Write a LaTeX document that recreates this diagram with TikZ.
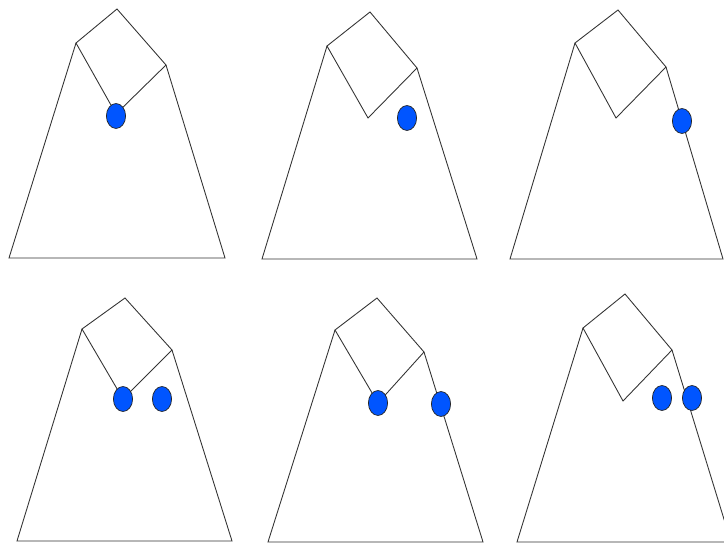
\documentclass[tikz,border=0pt]{standalone}
\usetikzlibrary{shapes.geometric}
\definecolor{dotblue}{RGB}{0,85,255}
\tikzset{
  rim/.style={draw=black!80,line width=0.75pt,line join=miter},
  ball/.style={ellipse,draw=black!85,fill=dotblue,line width=0.6pt,
    inner sep=0pt,outer sep=0pt,minimum width=16.4pt,minimum height=21.3pt}
}
\begin{document}
\begin{tikzpicture}[x=0.03cm,y=-0.03cm]
\useasboundingbox (0,0) rectangle (724,544);
\clip (0,0) rectangle (724,544);
% top row
\coordinate (l1) at (76,43);  \coordinate (t1) at (117,9);
\coordinate (r1) at (166,65); \coordinate (b1) at (116,114);
\coordinate (bl1) at (9,258); \coordinate (br1) at (225,258);
\coordinate (l2) at (327,46); \coordinate (t2) at (370,12);
\coordinate (r2) at (417,68); \coordinate (b2) at (368,118);
\coordinate (bl2) at (262,259); \coordinate (br2) at (477,259);
\coordinate (l3) at (575,43); \coordinate (t3) at (618,10);
\coordinate (r3) at (666,67); \coordinate (b3) at (616,118);
\coordinate (bl3) at (510,259); \coordinate (br3) at (723,259);
% bottom row
\coordinate (l4) at (82,329); \coordinate (t4) at (125,298);
\coordinate (r4) at (172,350); \coordinate (b4) at (123,399);
\coordinate (bl4) at (17,541); \coordinate (br4) at (232,541);
\coordinate (l5) at (335,330); \coordinate (t5) at (377,298);
\coordinate (r5) at (424,352); \coordinate (b5) at (378,403);
\coordinate (bl5) at (268,542); \coordinate (br5) at (483,542);
\coordinate (l6) at (583,328); \coordinate (t6) at (625,294);
\coordinate (r6) at (672,350); \coordinate (b6) at (623,401);
\coordinate (bl6) at (517,542); \coordinate (br6) at (731,542);
\foreach \i in {1,...,6}{
  \draw[rim] (r\i)--(br\i)--(bl\i)--(l\i);
  \draw[rim] (l\i)--(t\i)--(r\i)--(b\i)--cycle;
}
\node[ball] (d1) at (116,116) {};
\node[ball] (d2) at (407,118) {};
\node[ball] (d3) at (682,121) {};
\node[ball] (d4a) at (123,399) {};
\node[ball] (d4b) at (162,399) {};
\node[ball] (d5a) at (378,403) {};
\node[ball] (d5b) at (441,404) {};
\node[ball] (d6a) at (662,398) {};
\node[ball] (d6b) at (692,398) {};
\end{tikzpicture}
\end{document}
